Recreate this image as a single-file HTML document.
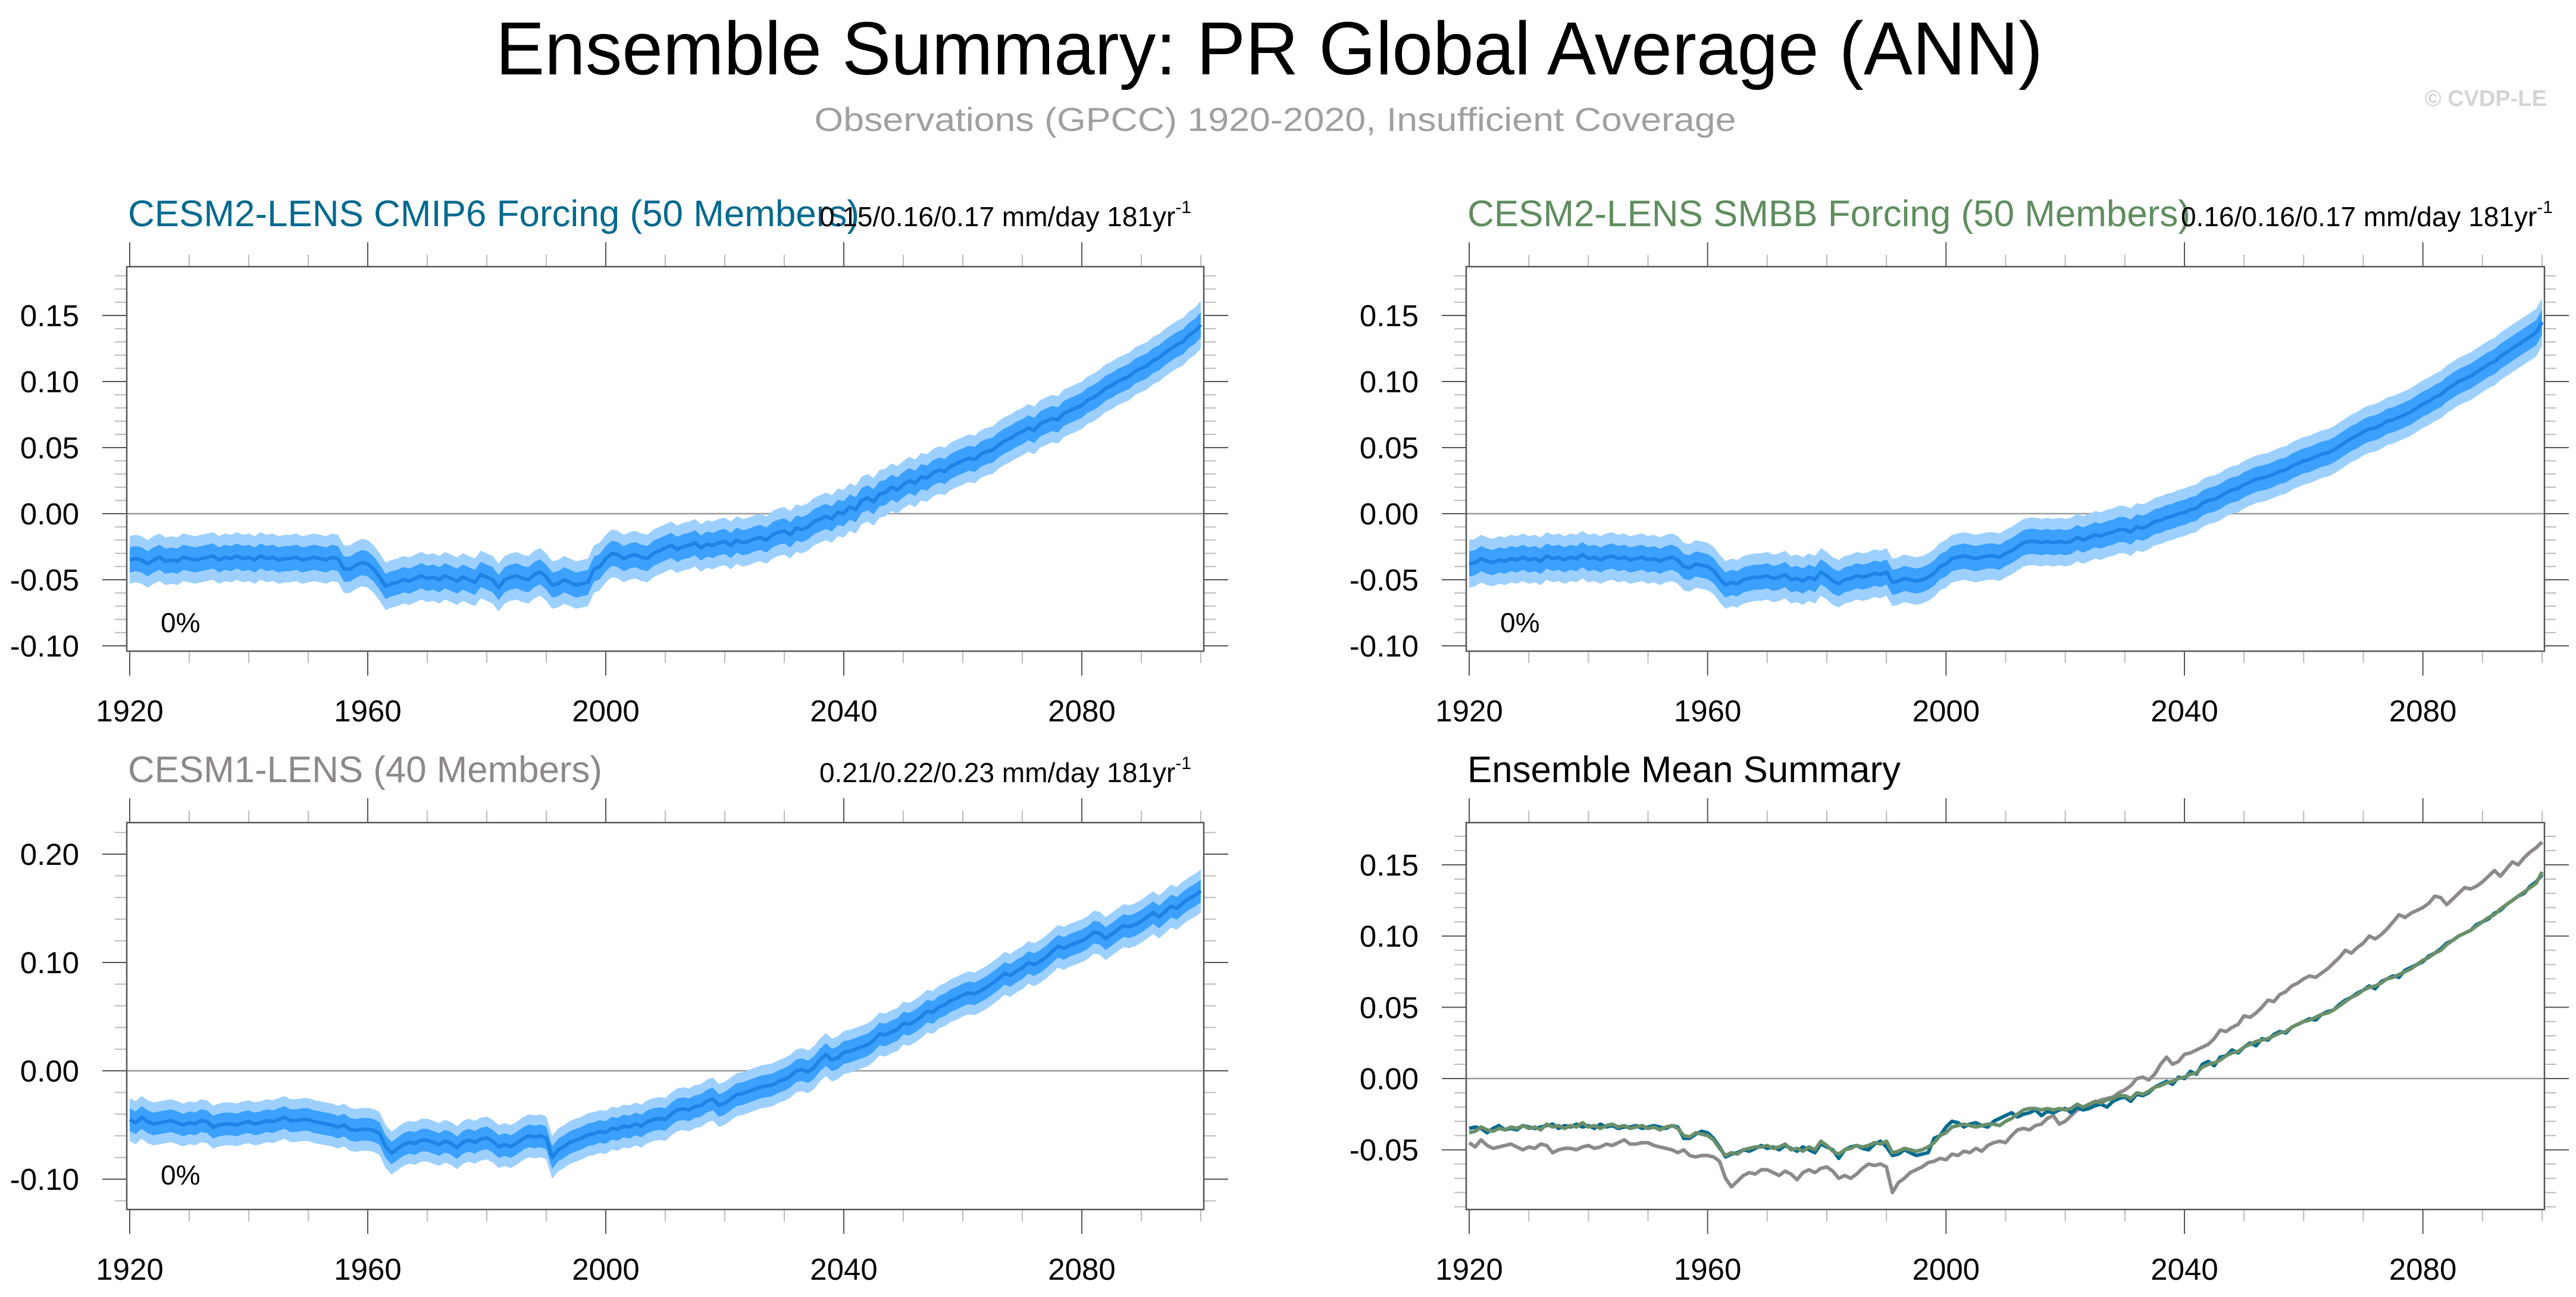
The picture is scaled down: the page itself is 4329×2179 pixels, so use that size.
<!DOCTYPE html>
<html><head><meta charset="utf-8"><style>
html,body{margin:0;padding:0;background:#fff}
svg{display:block}
text{font-family:"Liberation Sans",Arial,sans-serif}
</style></head><body>
<svg id="chart" xmlns="http://www.w3.org/2000/svg" width="4329" height="2179" viewBox="0 0 4329 2179">
<rect width="4329" height="2179" fill="#fff"/>
<text x="2133" y="125" font-size="126" text-anchor="middle" textLength="2600" lengthAdjust="spacingAndGlyphs" fill="#000">Ensemble Summary: PR Global Average (ANN)</text>
<text x="2143" y="220" font-size="56" text-anchor="middle" textLength="1549" lengthAdjust="spacingAndGlyphs" fill="#a0a0a0">Observations (GPCC) 1920-2020, Insufficient Coverage</text>
<text x="4280" y="178" font-size="38" font-weight="bold" text-anchor="end" fill="#d4d4d4">© CVDP-LE</text>
</svg>
<script>
const years=[];for(let y=1920;y<=2100;y++)years.push(y);
const cmip6Mean=[
-.035,-.034,-.035,-.038,-.035,-.033,-.036,-.035,-.036,-.033,
-.034,-.035,-.034,-.033,-.032,-.035,-.033,-.034,-.032,-.034,
-.033,-.035,-.032,-.034,-.033,-.035,-.034,-.034,-.033,-.035,
-.034,-.033,-.034,-.035,-.033,-.034,-.042,-.042,-.039,-.037,
-.038,-.042,-.048,-.055,-.053,-.052,-.050,-.051,-.049,-.047,
-.049,-.048,-.050,-.047,-.049,-.051,-.048,-.050,-.052,-.046,
-.048,-.050,-.056,-.050,-.048,-.047,-.049,-.050,-.046,-.044,
-.048,-.054,-.053,-.050,-.052,-.054,-.053,-.052,-.042,-.040,
-.034,-.030,-.031,-.034,-.032,-.031,-.033,-.034,-.030,-.028,
-.026,-.024,-.027,-.025,-.024,-.022,-.026,-.023,-.024,-.022,
-.021,-.024,-.020,-.022,-.021,-.019,-.018,-.020,-.016,-.014,
-.013,-.016,-.011,-.012,-.010,-.006,-.004,-.002,-.004,.001,
.000,.005,.003,.010,.012,.009,.015,.016,.020,.018,
.022,.025,.023,.028,.027,.031,.033,.032,.036,.038,
.040,.042,.041,.045,.047,.048,.052,.055,.057,.060,
.062,.065,.063,.068,.070,.072,.071,.076,.078,.080,
.082,.086,.088,.091,.095,.097,.100,.102,.104,.108,
.110,.112,.116,.118,.122,.125,.128,.130,.135,.138,
.143];
const smbbMean=[
-.038,-.037,-.034,-.036,-.037,-.035,-.036,-.034,-.035,-.033,
-.035,-.034,-.036,-.032,-.034,-.033,-.035,-.033,-.034,-.031,
-.034,-.033,-.035,-.033,-.032,-.034,-.033,-.035,-.034,-.033,
-.035,-.034,-.036,-.034,-.033,-.035,-.040,-.041,-.038,-.039,
-.040,-.043,-.049,-.054,-.052,-.053,-.050,-.049,-.048,-.048,
-.047,-.049,-.048,-.046,-.050,-.049,-.051,-.048,-.050,-.044,
-.047,-.051,-.053,-.050,-.049,-.047,-.048,-.047,-.045,-.046,
-.044,-.052,-.051,-.049,-.050,-.051,-.050,-.048,-.045,-.040,
-.038,-.034,-.033,-.032,-.033,-.034,-.033,-.032,-.032,-.033,
-.030,-.028,-.025,-.022,-.021,-.021,-.022,-.021,-.022,-.021,
-.022,-.021,-.018,-.020,-.018,-.016,-.017,-.015,-.014,-.012,
-.012,-.014,-.010,-.011,-.009,-.006,-.005,-.003,-.002,.000,
.001,.003,.004,.008,.010,.011,.013,.016,.018,.019,
.022,.024,.026,.027,.028,.030,.032,.033,.036,.038,
.040,.041,.043,.045,.046,.048,.051,.054,.057,.059,
.062,.064,.065,.067,.070,.071,.073,.075,.077,.080,
.083,.085,.088,.090,.094,.097,.100,.102,.104,.107,
.110,.113,.115,.119,.122,.125,.128,.131,.134,.137,
.145];
const cesm1Mean=[
-.045,-.048,-.043,-.047,-.049,-.048,-.047,-.046,-.048,-.050,
-.048,-.049,-.046,-.047,-.052,-.050,-.049,-.049,-.050,-.048,
-.047,-.049,-.048,-.046,-.047,-.045,-.043,-.046,-.046,-.045,
-.045,-.047,-.048,-.049,-.050,-.052,-.050,-.054,-.055,-.054,
-.054,-.055,-.058,-.070,-.076,-.072,-.068,-.066,-.067,-.064,
-.064,-.066,-.068,-.065,-.067,-.071,-.066,-.064,-.066,-.063,
-.062,-.065,-.070,-.068,-.070,-.067,-.063,-.060,-.061,-.060,
-.062,-.080,-.073,-.070,-.066,-.064,-.062,-.059,-.058,-.056,
-.057,-.053,-.054,-.051,-.052,-.049,-.051,-.047,-.045,-.044,
-.045,-.040,-.036,-.035,-.036,-.033,-.032,-.028,-.026,-.032,
-.030,-.026,-.022,-.021,-.019,-.017,-.015,-.014,-.013,-.010,
-.008,-.005,.000,.001,-.001,.003,.010,.015,.010,.012,
.017,.018,.020,.022,.024,.028,.034,.033,.036,.038,
.044,.043,.046,.050,.055,.054,.059,.061,.065,.067,
.070,.072,.071,.074,.077,.081,.085,.090,.088,.092,
.095,.100,.098,.101,.105,.110,.115,.113,.116,.118,
.120,.123,.128,.127,.122,.126,.130,.134,.133,.135,
.138,.142,.146,.142,.147,.152,.150,.155,.159,.162,
.166];
const xTicks=[1920,1960,2000,2040,2080];
const yTicksTop=[-0.10,-0.05,0.00,0.05,0.10,0.15];
const yTicksBL=[-0.10,0.00,0.10,0.20];
const yTicksBR=[-0.05,0.00,0.05,0.10,0.15];
const innerSpread=0.0095, outerSpread=0.018;

const svg=document.getElementById('chart');
const NS='http://www.w3.org/2000/svg';
function mk(tag,attrs,parent){const e=document.createElementNS(NS,tag);for(const k in attrs)e.setAttribute(k,attrs[k]);(parent||svg).appendChild(e);return e;}

function panel(cfg){
  const g=mk('g',{});
  
  
  const L=cfg.left,R=cfg.right,T=cfg.top,B=cfg.bottom;
  const x=v=>cfg.x0+(v-1920)*(cfg.x1-cfg.x0)/180;
  const y=v=>cfg.yZero-v*cfg.yPer;
  for(let yr=1920;yr<=2100;yr+=10){
    const maj=(yr-1920)%40===0;const len=maj?41:20;
    const c=maj?'#555':'#bbb';
    const t1=mk('line',{x1:x(yr),x2:x(yr),y1:B,y2:B+len,stroke:c,'stroke-width':2},g);
    
    
    const t2=mk('line',{x1:x(yr),x2:x(yr),y1:T,y2:T-len,stroke:c,'stroke-width':2},g);
    
    
  }
  xTicks.forEach(v=>{const t=mk('text',{x:x(v),y:B+118,'font-size':51,'text-anchor':'middle',fill:'#000'},g);t.textContent=String(v);
    
    });
  for(let k=Math.ceil((cfg.yZero-B)/cfg.yPer/cfg.yMinor-1e-6);k*cfg.yMinor<=(cfg.yZero-T)/cfg.yPer+1e-9;k++){
    const v=k*cfg.yMinor;const maj=cfg.ticks.some(tv=>Math.abs(tv-v)<1e-6);
    const len=maj?41:20;const c=maj?'#555':'#bbb';
    const a=mk('line',{x1:L-len,x2:L,y1:y(v),y2:y(v),stroke:c,'stroke-width':2},g);
    
    
    const b=mk('line',{x1:R,x2:R+len,y1:y(v),y2:y(v),stroke:c,'stroke-width':2},g);
    
    
  }
  cfg.ticks.forEach(v=>{const t=mk('text',{x:L-80,y:y(v)+18,'font-size':51,'text-anchor':'end',fill:'#000'},g);t.textContent=v.toFixed(2);
    
    });
  const z=mk('line',{x1:L,x2:R,y1:y(0),y2:y(0),stroke:'#999','stroke-width':2.5},g);
  
  
  const lineOf=arr=>arr.map((v,i)=>(i?'L':'M')+x(years[i]).toFixed(1)+' '+y(v).toFixed(1)).join(' ');
  const bandOf=(arr,s)=>{let d=arr.map((v,i)=>(i?'L':'M')+x(years[i]).toFixed(1)+' '+y(v+s).toFixed(1)).join(' ');
    for(let i=arr.length-1;i>=0;i--)d+=' L'+x(years[i]).toFixed(1)+' '+y(arr[i]-s).toFixed(1);return d+'Z';};
  if(cfg.series){
    const o=mk('path',{d:bandOf(cfg.series,outerSpread*cfg.spreadScale),fill:'#9dd0ff'},g);
    
    
    const n=mk('path',{d:bandOf(cfg.series,innerSpread*cfg.spreadScale),fill:'#3ba0ff'},g);
    
    
    const m=mk('path',{d:lineOf(cfg.series),fill:'none',stroke:'#1c84e8','stroke-width':6,'stroke-linejoin':'round'},g);
    
    
    const p=mk('text',{x:L+57,y:cfg.pctY,'font-size':46,fill:'#000'},g);p.textContent='0%';
    
    
  }
  if(cfg.multi){
    cfg.multi.forEach(s=>{const m=mk('path',{d:lineOf(s.data),fill:'none',stroke:s.color,'stroke-width':6,'stroke-linejoin':'round'},g);
      
      });
  }
  const f=mk('rect',{x:L,y:T,width:R-L,height:B-T,fill:'none',stroke:'#555','stroke-width':2.5},g);
  
  
  const tt=mk('text',{x:L+2,y:T-68,'font-size':62,fill:cfg.titleColor,textLength:cfg.titleLen,lengthAdjust:'spacingAndGlyphs'},g);tt.textContent=cfg.title;
  
  
  if(cfg.rt){
    const r=mk('text',{x:cfg.rtX,y:T-68,'font-size':46,'text-anchor':'end',fill:'#000'},g);
    r.textContent=cfg.rt;
    const sp=mk('tspan',{'font-size':30,dy:-22},r);sp.textContent='-1';
    
    
  }
}
const leftP={left:213,right:2023,x0:218,x1:2018},rightP={left:2464,right:4276,x0:2469,x1:4272};
panel(Object.assign({name:'panel-cesm2-cmip6',top:448,bottom:1094,yZero:863,yPer:2220,yMinor:0.01,ticks:yTicksTop,series:cmip6Mean,pctY:1062,spreadScale:1,
  title:'CESM2-LENS CMIP6 Forcing (50 Members)',titleColor:'#00698f',titleLen:1229,rt:'0.15/0.16/0.17 mm/day 181yr',rtX:2002},leftP));
panel(Object.assign({name:'panel-cesm2-smbb',top:448,bottom:1094,yZero:863,yPer:2220,yMinor:0.01,ticks:yTicksTop,series:smbbMean,pctY:1062,spreadScale:1,
  title:'CESM2-LENS SMBB Forcing (50 Members)',titleColor:'#5f8d5f',titleLen:1215,rt:'0.16/0.16/0.17 mm/day 181yr',rtX:4290},rightP));
panel(Object.assign({name:'panel-cesm1',top:1382,bottom:2032,yZero:1799,yPer:1820,yMinor:0.02,ticks:yTicksBL,series:cesm1Mean,pctY:1990,spreadScale:1.1,
  title:'CESM1-LENS (40 Members)',titleColor:'#8d8889',titleLen:797,rt:'0.21/0.22/0.23 mm/day 181yr',rtX:2002},leftP));
panel(Object.assign({name:'panel-ensemble-mean-summary',top:1382,bottom:2032,yZero:1812,yPer:2394,yMinor:0.01,ticks:yTicksBR,
  multi:[{name:'cesm1-mean-line',data:cesm1Mean,color:'#8e898b'},{name:'cmip6-mean-line',data:cmip6Mean,color:'#006b8f'},{name:'smbb-mean-line',data:smbbMean,color:'#6a8f6a'}],
  title:'Ensemble Mean Summary',titleColor:'#000',titleLen:728},rightP));
</script>
</body></html>
